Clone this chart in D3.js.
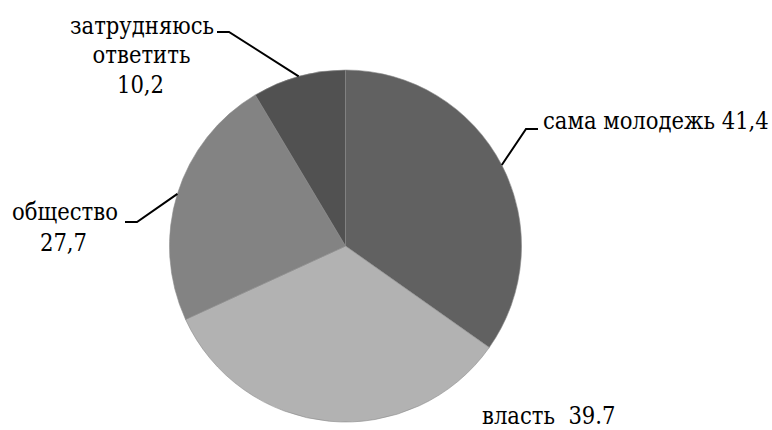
<!DOCTYPE html>
<html>
<head>
<meta charset="utf-8">
<script src="https://cdn.jsdelivr.net/npm/d3@7"></script>
</head>
<body style="margin:0">
<div id="chart"></div>
<script>
// data
var categories = ["сама молодежь", "власть", "общество", "затрудняюсь ответить"];
var values = [41.4, 39.7, 27.7, 10.2];
var valueLabels = ["41,4", "39.7", "27,7", "10,2"];
var colors = ["#616161", "#b2b2b2", "#838383", "#515151"];

var width = 772, height = 430;
var cx = 345.5, cy = 246, radius = 176;
var labelFont = "DejaVu Serif Condensed, DejaVu Serif, serif";

var svg = d3.select("#chart")
  .append("svg")
    .attr("width", width)
    .attr("height", height)
  .append("g")
    .attr("transform", "translate(" + cx + "," + cy + ")");

var color = d3.scaleOrdinal()
  .domain(categories)
  .range(colors);

var pie = d3.pie()
  .sort(null)
  .value(function(d, i) { return values[i]; });

var arcs = pie(categories);

var arc = d3.arc()
  .innerRadius(0)
  .outerRadius(radius);

// point on the rim at the middle of each slice, used for leader lines
var rim = d3.arc()
  .innerRadius(radius)
  .outerRadius(radius);

svg.selectAll("path.slice")
  .data(arcs)
  .enter()
  .append("path")
    .attr("class", "slice")
    .attr("d", arc)
    .attr("fill", function(d) { return color(d.data); })
    .attr("stroke", "#8a8a8a")
    .attr("stroke-width", 0.6);

// label layout (relative to pie centre): elbow point, text lines (baselines), anchor
var layout = [
  { elbow: [180.5, -117], lines: [{t: "сама молодежь " + valueLabels[0], x: 197.5, y: -117}], anchor: "start", leader: true },
  { elbow: null, lines: [{t: "власть\u00a0\u00a0" + valueLabels[1], x: 136.5, y: 178}], anchor: "start", leader: false },
  { elbow: [-208.5, -24], lines: [{t: "общество", x: -280.5, y: -26}, {t: valueLabels[2], x: -282, y: 5}], anchor: "middle", leader: true },
  { elbow: [-116.5, -214], lines: [{t: "затрудняюсь", x: -203.5, y: -212}, {t: "ответить", x: -204, y: -183}, {t: valueLabels[3], x: -205, y: -153}], anchor: "middle", leader: true }
];

arcs.forEach(function(d, i) {
  var l = layout[i];
  if (l.leader) {
    var p = rim.centroid(d);
    var side = l.elbow[0] > 0 ? 1 : -1;
    var pts = [p, l.elbow, [l.elbow[0] + side * 12, l.elbow[1]]];
    svg.append("path")
      .attr("d", d3.line()(pts))
      .attr("fill", "none")
      .attr("stroke", "#000")
      .attr("stroke-width", 2);
  }
  l.lines.forEach(function(line) {
    svg.append("text")
      .attr("x", line.x)
      .attr("y", line.y)
      .attr("text-anchor", l.anchor)
      .style("font-family", labelFont)
      .style("font-size", "23.5px")
      .style("fill", "#000")
      .text(line.t);
  });
});
</script>
</body>
</html>
